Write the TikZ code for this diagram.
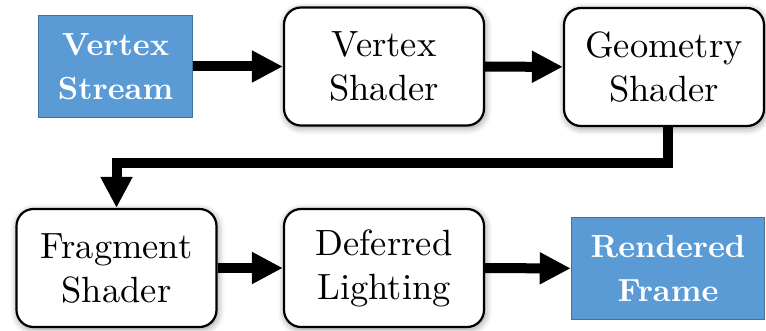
\documentclass[tikz,border=0pt]{standalone}
\usepackage{fontspec}
% Latin Modern at its 10pt design size, scaled up
\setmainfont{lmroman10-regular.otf}[BoldFont=lmroman10-bold.otf]
\usetikzlibrary{arrows.meta,shadows.blur}
\definecolor{streamblue}{RGB}{91,155,213}
\definecolor{streamedge}{RGB}{65,113,156}
\tikzset{
  stagebox/.style={draw=black, line width=2.2pt, fill=white, rounded corners=17pt,
    align=center, inner sep=0pt, minimum width=200pt, minimum height=118pt,
    font=\fontsize{36.5}{44}\selectfont,
    blur shadow={shadow xshift=1pt, shadow yshift=-2pt, shadow blur radius=7pt, shadow opacity=45}},
  endbox/.style={draw=streamedge, line width=1.5pt, fill=streamblue, text=white,
    align=center, inner sep=0pt, minimum height=102pt,
    font=\fontsize{32}{44}\selectfont\bfseries},
  flow/.style={line width=10pt, -{Triangle[length=31pt,width=30pt]}, line join=miter}
}
\begin{document}
\begin{tikzpicture}[x=1pt,y=-1pt]
  \useasboundingbox (0,0) rectangle (766,331);
  % top row
  \node[endbox, minimum width=154pt] (stream) at (115.5,66.5) {Vertex\\Stream};
  \node[stagebox] (vshader) at (384,66.5) {Vertex\\Shader};
  \node[stagebox] (gshader) at (664,67) {Geometry\\Shader};
  % bottom row
  \node[stagebox] (fshader) at (116.5,268) {Fragment\\Shader};
  \node[stagebox] (lighting) at (384,268) {Deferred\\Lighting};
  \node[endbox, minimum width=193pt] (frame) at (668,268.5) {Rendered\\Frame};
  % connectors
  \draw[flow] (stream) -- (vshader);
  \draw[flow] (vshader) -- (gshader);
  \draw[flow] ([xshift=4pt]gshader.south) -- ++(0,36) -| (fshader.north);
  \draw[flow] (fshader) -- (lighting);
  \draw[flow] (lighting) -- (frame);
\end{tikzpicture}
\end{document}
